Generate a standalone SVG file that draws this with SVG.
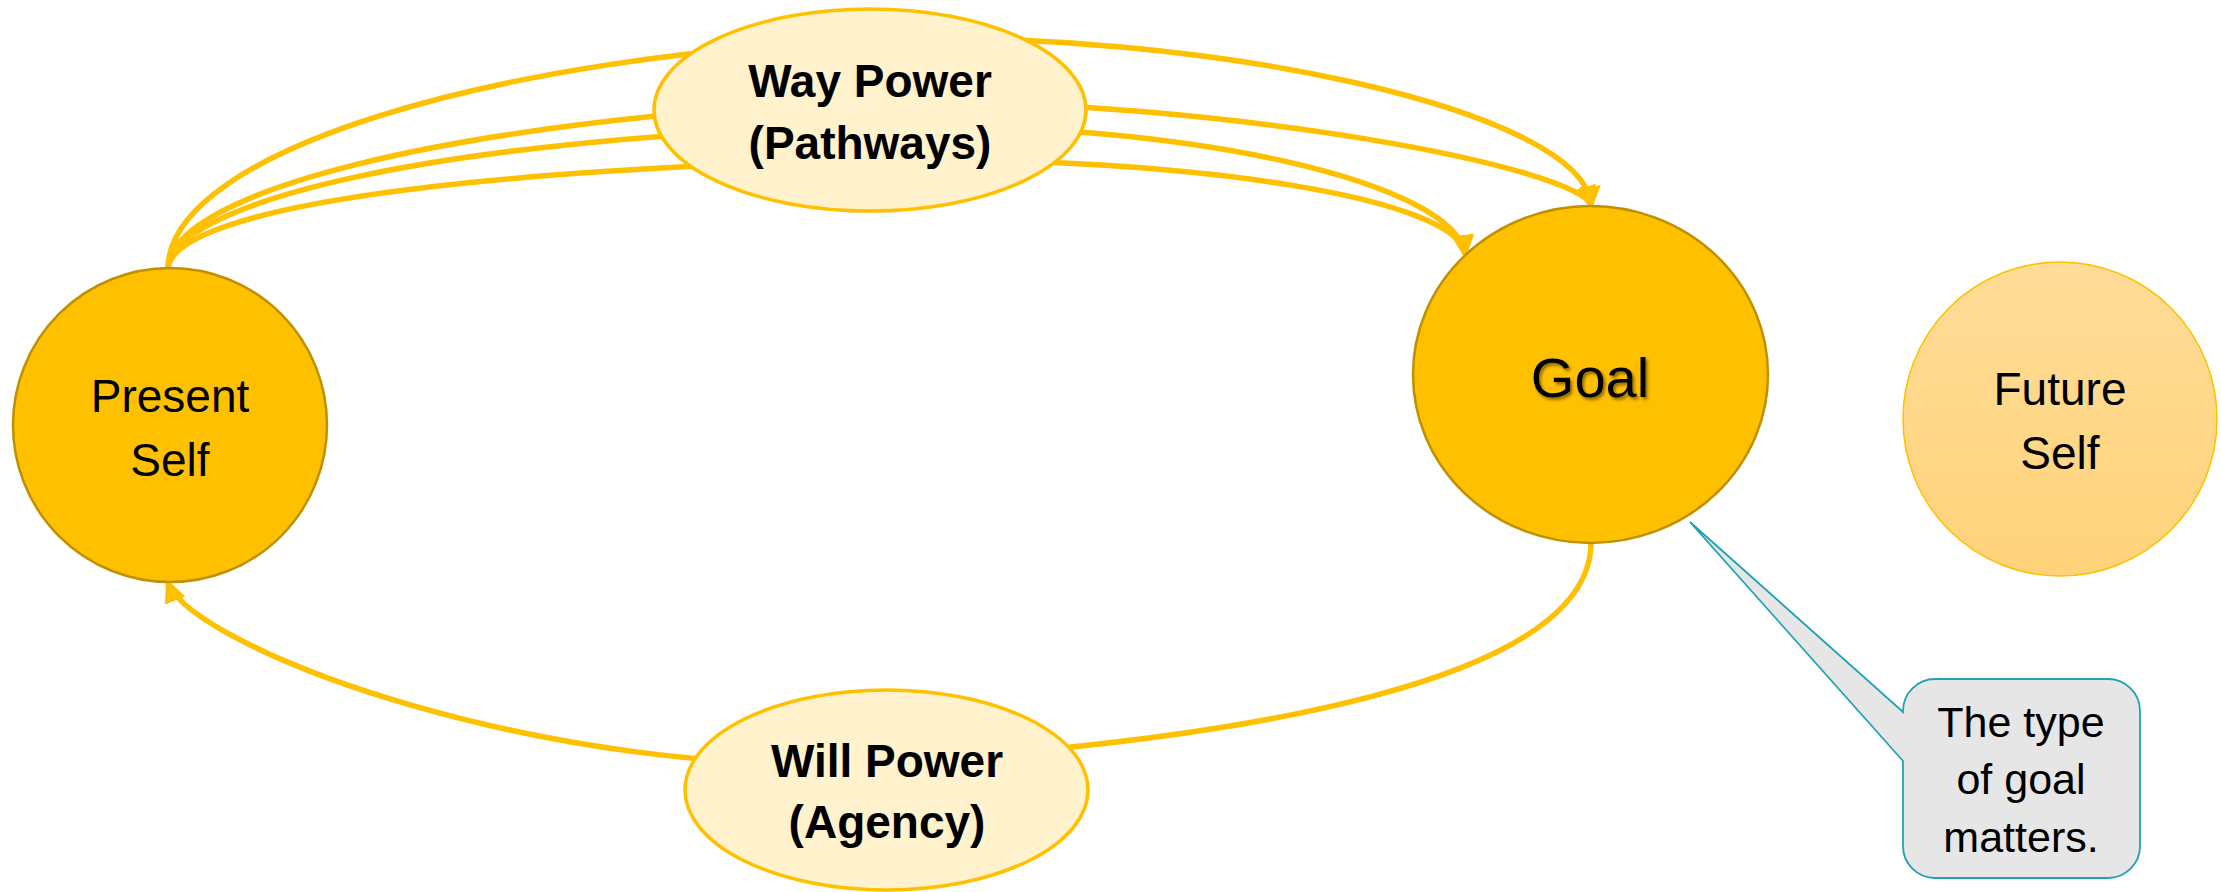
<svg xmlns="http://www.w3.org/2000/svg" width="2221" height="892" viewBox="0 0 2221 892">
<style>
.conn{fill:none;stroke:#FFC000;stroke-width:5.5}
.arr{marker-end:url(#ah)}
.main{fill:#FFC000;stroke:#BF9000;stroke-width:2.5}
.pow{fill:#FFF2CC;stroke:#FFC000;stroke-width:3.5}
.t{font-family:"Liberation Sans",Arial,sans-serif;fill:#000;text-anchor:middle}
.b{font-weight:bold}
</style>
<defs>
<marker id="ah" markerUnits="userSpaceOnUse" markerWidth="24" markerHeight="22" viewBox="0 0 24 22" refX="19" refY="11" orient="auto">
<path d="M0,0 L24,11 L0,22 Z" fill="#FFC000"/>
</marker>
<linearGradient id="fg" x1="0" y1="0" x2="0" y2="1">
<stop offset="0" stop-color="#FFDC98"/>
<stop offset="1" stop-color="#FFD37A"/>
</linearGradient>
<filter id="sh" x="-20%" y="-20%" width="140%" height="140%">
<feDropShadow dx="2" dy="2.5" stdDeviation="1.5" flood-color="#000" flood-opacity="0.45"/>
</filter>
</defs>
<g id="connectors">
<path class="conn arr" d="M168,268 C170,150 500,55 870,40 C1200,27 1585,110 1591,205"/>
<path class="conn arr" d="M168,268 C170,195 430,122 870,100 C1250,100 1580,170 1591,205"/>
<path class="conn arr" d="M168,268 C172,205 420,138 870,126 C1200,120 1455,185 1465,254"/>
<path class="conn arr" d="M168,268 C175,215 400,172 870,160 C1200,155 1460,200 1465,254"/>
<path class="conn arr" d="M1591,543 C1590,680 1250,740 886,762 C550,782 195,650 168,583"/>
</g>
<g id="present-self">
<circle class="main" cx="170" cy="425" r="157"/>
<text class="t" x="170" y="412" font-size="46">Present</text>
<text class="t" x="170" y="476" font-size="46">Self</text>
</g>
<g id="way-power">
<ellipse class="pow" cx="870" cy="110" rx="216" ry="101"/>
<text class="t b" x="870" y="97" font-size="46">Way Power</text>
<text class="t b" x="870" y="159" font-size="46">(Pathways)</text>
</g>
<g id="will-power">
<ellipse class="pow" cx="886.5" cy="790" rx="201.5" ry="100"/>
<text class="t b" x="887" y="777" font-size="46">Will Power</text>
<text class="t b" x="887" y="838" font-size="46">(Agency)</text>
</g>
<g id="goal">
<ellipse class="main" cx="1590.5" cy="374.5" rx="177.5" ry="168.5"/>
<text class="t" x="1590" y="397" font-size="56" filter="url(#sh)">Goal</text>
</g>
<g id="future-self">
<circle cx="2060" cy="419" r="157" fill="url(#fg)" stroke="#FFC000" stroke-width="1.5"/>
<text class="t" x="2060" y="405" font-size="46">Future</text>
<text class="t" x="2060" y="469" font-size="46">Self</text>
</g>
<g id="callout">
<path d="M1935,679 H2108 A32,32 0 0 1 2140,711 V846 A32,32 0 0 1 2108,878 H1935 A32,32 0 0 1 1903,846 V761 L1690,522 L1903,712 L1903,711 A32,32 0 0 1 1935,679 Z" fill="#E6E6E6" stroke="#1FA3B2" stroke-width="1.8"/>
<text class="t" x="2021" y="737" font-size="43">The type</text>
<text class="t" x="2021" y="794" font-size="43">of goal</text>
<text class="t" x="2021" y="852" font-size="43">matters.</text>
</g>
</svg>
